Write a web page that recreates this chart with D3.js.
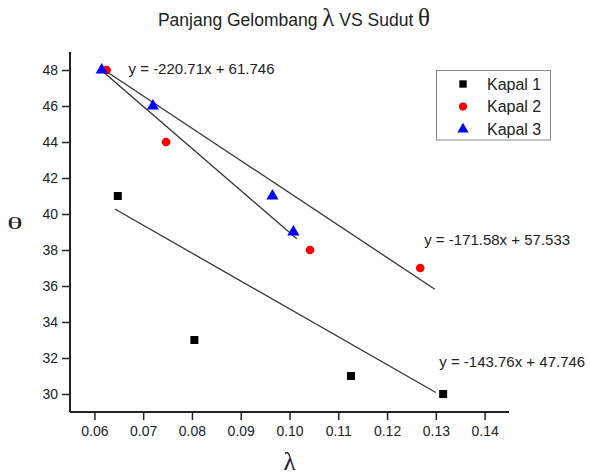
<!DOCTYPE html>
<html>
<head>
<meta charset="utf-8">
<script src="https://cdn.jsdelivr.net/npm/d3@7"></script>
<style>
  html, body { margin: 0; padding: 0; background: #fff; }
  svg { display: block; }
  text { font-family: "Liberation Sans", Arial, sans-serif; }
</style>
</head>
<body>
<svg id="chart" width="590" height="475"></svg>
<script>
// ---- data ----
const seriesNames = ["Kapal 1", "Kapal 2", "Kapal 3"];
const kapal1X = [0.0648, 0.0805, 0.1126, 0.1315];
const kapal1Y = [41, 33, 31, 30];
const kapal2X = [0.0625, 0.0747, 0.1042, 0.1268];
const kapal2Y = [48, 44, 38, 37];
const kapal3X = [0.0615, 0.0720, 0.0965, 0.1008];
const kapal3Y = [48, 46, 41, 39];
// fitted line segments as drawn (start, end)
const fit1X = [0.0642, 0.1300], fit1Y = [40.28, 30.08];
const fit2X = [0.0620, 0.1298], fit2Y = [48.0, 35.82];
const fit3X = [0.0616, 0.1015], fit3Y = [47.94, 38.62];
// equation labels and their anchor (data units)
const eqTexts = ["y = -143.76x + 47.746", "y = -171.58x + 57.533", "y = -220.71x + 61.746"];
const eqAnchorX = [0.1307, 0.1276, 0.0670];
const eqAnchorY = [31.52, 38.28, 47.78];
const xMajorTicks = [0.06, 0.07, 0.08, 0.09, 0.10, 0.11, 0.12, 0.13, 0.14];
const xMinorTicks = [0.055, 0.065, 0.075, 0.085, 0.095, 0.105, 0.115, 0.125, 0.135, 0.145];
const yMajorTicks = [30, 32, 34, 36, 38, 40, 42, 44, 46, 48];
const yMinorTicks = [29, 31, 33, 35, 37, 39, 41, 43, 45, 47, 49];
const xDomain = [0.055, 0.145];
const yDomain = [29, 49];

// ---- chart ----
const svg = d3.select("#chart");
const x = d3.scaleLinear().domain(xDomain).range([70, 509]);
const y = d3.scaleLinear().domain(yDomain).range([412, 52]);
const axisColor = "#222";

// title
const title = svg.append("text")
  .attr("x", 294).attr("y", 26)
  .attr("text-anchor", "middle")
  .attr("fill", "#222")
  .style("font-size", "17.5px");
title.append("tspan").text("Panjang Gelombang ");
title.append("tspan").text("λ").style("font-family", "'Liberation Serif', 'DejaVu Serif', serif").style("font-size", "25px");
title.append("tspan").text(" VS Sudut ");
title.append("tspan").text("θ").style("font-family", "'Liberation Serif', 'DejaVu Serif', serif").style("font-size", "25px");

// axes
const gx = svg.append("g").attr("transform", `translate(0,${y(yDomain[0])})`);
gx.call(d3.axisBottom(x).tickValues(xMinorTicks).tickSize(4).tickFormat(""));
gx.call(d3.axisBottom(x).tickValues(xMajorTicks).tickSize(8).tickPadding(6).tickFormat(d3.format(".2f")));
const gy = svg.append("g").attr("transform", `translate(${x(xDomain[0])},0)`);
gy.call(d3.axisLeft(y).tickValues(yMinorTicks).tickSize(4).tickFormat(""));
gy.call(d3.axisLeft(y).tickValues(yMajorTicks).tickSize(8).tickPadding(4).tickFormat(d3.format("d")));
[gx, gy].forEach(g => {
  g.selectAll("path.domain").attr("stroke", axisColor).attr("stroke-width", 2);
  g.selectAll(".tick line").attr("stroke", axisColor).attr("stroke-width", 1.5);
  g.selectAll(".tick text").attr("fill", "#222").style("font-size", "14px")
    .style("font-family", "'Liberation Sans', Arial, sans-serif");
});
gx.selectAll("path.domain").attr("d", `M${x(xDomain[0])},0H${x(xDomain[1])}`);
gy.selectAll("path.domain").attr("d", `M0,${y(yDomain[1])}V${y(yDomain[0])}`);

// axis labels
svg.append("text")
  .attr("x", (x.range()[0] + x.range()[1]) / 2).attr("y", 470)
  .attr("text-anchor", "middle").attr("fill", "#222")
  .style("font-family", "'Liberation Serif', 'DejaVu Serif', serif")
  .style("font-size", "25px").text("λ");
svg.append("text")
  .attr("transform", "translate(15,223) scale(1.45,0.75)")
  .attr("text-anchor", "middle").attr("dy", "0.35em").attr("fill", "#222")
  .style("font-family", "'Liberation Serif', 'DejaVu Serif', serif")
  .style("font-size", "22px").text("θ");

// fit lines
const fits = [[fit1X, fit1Y], [fit2X, fit2Y], [fit3X, fit3Y]];
const line = d3.line().x(d => x(d[0])).y(d => y(d[1]));
fits.forEach(([fx, fy]) => {
  svg.append("path")
    .attr("d", line(fx.map((v, i) => [v, fy[i]])))
    .attr("fill", "none").attr("stroke", "#333").attr("stroke-width", 1.3);
});

// equation labels
eqTexts.forEach((t, i) => {
  svg.append("text")
    .attr("x", x(eqAnchorX[i])).attr("y", y(eqAnchorY[i]))
    .attr("fill", "#222").style("font-size", "15px").text(t);
});

// markers
const symbols = [d3.symbolSquare, d3.symbolCircle, d3.symbolTriangle];
const colors = ["#000000", "#ff0000", "#0000ff"];
const sizes = [64, 60, 64];
const seriesX = [kapal1X, kapal2X, kapal3X];
const seriesY = [kapal1Y, kapal2Y, kapal3Y];
seriesX.forEach((sx, s) => {
  svg.append("g").selectAll("path")
    .data(sx.map((v, i) => [v, seriesY[s][i]]))
    .join("path")
    .attr("transform", d => `translate(${x(d[0])},${y(d[1])})`)
    .attr("d", d3.symbol().type(symbols[s]).size(sizes[s]))
    .attr("fill", colors[s]);
});

// legend
const lg = svg.append("g");
lg.append("rect").attr("x", 436.5).attr("y", 70.5).attr("width", 114).attr("height", 69.5)
  .attr("fill", "#fff").attr("stroke", "#888").attr("stroke-width", 1);
seriesNames.forEach((name, i) => {
  const cy = 84 + i * 22.6;
  lg.append("path")
    .attr("transform", `translate(463,${cy})`)
    .attr("d", d3.symbol().type(symbols[i]).size(sizes[i] * 0.85))
    .attr("fill", colors[i]);
  lg.append("text").attr("x", 487).attr("y", cy).attr("dy", "0.36em")
    .attr("fill", "#222").style("font-size", "16px").text(name);
});
</script>
</body>
</html>
